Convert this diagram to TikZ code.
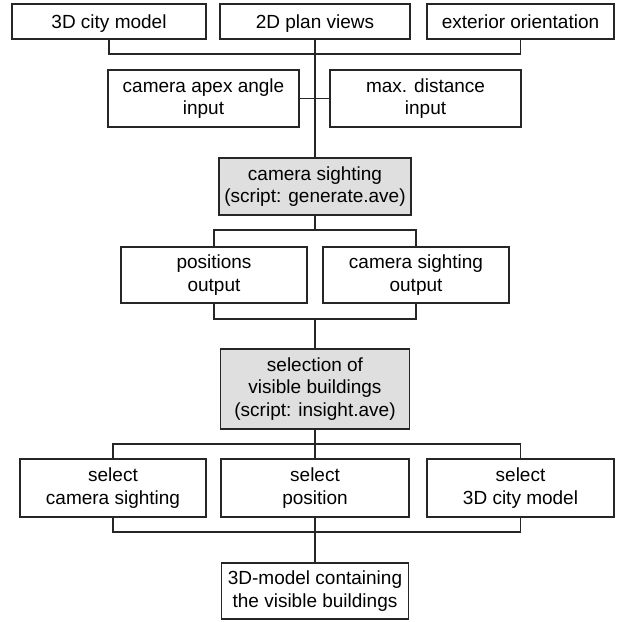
\documentclass[tikz,border=0pt]{standalone}
\usepackage{fontspec}
\setmainfont{Liberation Sans}
\begin{document}
\begin{tikzpicture}[x=1pt,y=-1pt,
  box/.style={draw=black!85,line width=1.1pt,fill=white,rectangle,inner sep=0pt,align=center,
    font=\fontsize{19}{22.5}\selectfont},
  single/.style={box,text height=14pt,text depth=1pt},
  proc/.style={box,fill=gray!25},
  wire/.style={draw=black!85,line width=1.1pt}]
\useasboundingbox[fill=white] (0,0) rectangle (623,621);
% top row
\node[single,minimum width=194pt,minimum height=35pt] (A) at (109,21.5) {3D city model};
\node[single,minimum width=190pt,minimum height=35pt] (B) at (315,21.5) {2D plan views};
\node[single,minimum width=187pt,minimum height=35pt] (C) at (520.5,21.5) {exterior orientation};
% inputs
\node[box,minimum width=191pt,minimum height=57pt] (D) at (203.5,98.5) {camera apex angle\\input};
\node[box,minimum width=191pt,minimum height=57pt] (E) at (425.5,98.5) {max. distance\\input};
% camera sighting
\node[proc,minimum width=192pt,minimum height=57pt] (F) at (315,186.5) {camera sighting\\(script: generate.ave)};
% outputs
\node[box,minimum width=186pt,minimum height=56pt] (G) at (214,275) {positions\\output};
\node[box,minimum width=186pt,minimum height=56pt] (H) at (416,275) {camera sighting\\output};
% selection
\node[proc,minimum width=189pt,minimum height=80pt] (I) at (315,389) {selection of\\visible buildings\\(script: insight.ave)};
% selects
\node[box,minimum width=186pt,minimum height=58pt] (J) at (113,488) {select\\camera sighting};
\node[box,minimum width=188pt,minimum height=58pt] (K) at (315,488) {select\\position};
\node[box,minimum width=187pt,minimum height=58pt] (L) at (520.5,488) {select\\3D city model};
% final
\node[box,minimum width=187pt,minimum height=56pt] (M) at (315,591) {3D-model containing\\the visible buildings};
% junction coordinates
\coordinate (j1) at (315,54);
\coordinate (j3) at (315,230);
\coordinate (j4) at (315,319);
\coordinate (j5) at (315,444);
\coordinate (j6) at (315,532);
% connectors
\draw[wire] (A.south) -- (A.south |- j1) -- (C.south |- j1) -- (C.south);
\draw[wire] (B.south) -- (F.north);
\draw[wire] (D.east) -- (E.west);
\draw[wire] (F.south) -- (j3);
\draw[wire] (G.north) -- (G.north |- j3) -- (H.north |- j3) -- (H.north);
\draw[wire] (G.south) -- (G.south |- j4) -- (H.south |- j4) -- (H.south);
\draw[wire] (j4) -- (I.north);
\draw[wire] (I.south) -- (j5);
\draw[wire] (J.north) -- (J.north |- j5) -- (L.north |- j5) -- (L.north);
\draw[wire] (K.north) -- (j5);
\draw[wire] (J.south) -- (J.south |- j6) -- (L.south |- j6) -- (L.south);
\draw[wire] (K.south) -- (M.north);
\end{tikzpicture}
\end{document}
